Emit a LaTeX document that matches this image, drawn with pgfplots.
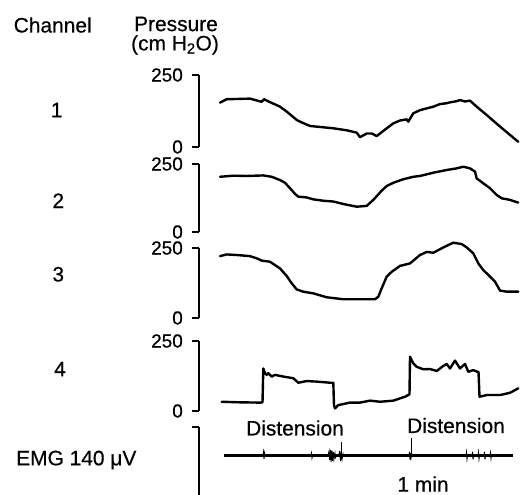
\documentclass[border=0pt]{standalone}
\usepackage{pgfplots}
\pgfplotsset{compat=1.18}
\usepackage{fontspec}
\setmainfont{Liberation Sans}[FakeBold=0.5]
\newcommand{\bigtxt}{\fontsize{21}{25}\selectfont}
\pgfplotsset{
  chan/.style={
    scale only axis, width=322bp, xmin=199, xmax=521, ymin=0, ymax=250,
    clip=false, axis x line=none, axis y line=left,
    axis line style={-, line width=1.6bp, black},
    ytick={0,250}, tick align=outside, major tick length=7bp,
    every tick/.style={line width=1.6bp, black},
    /pgf/number format/assume math mode=true,
    yticklabel style={font=\fontsize{19}{20}\selectfont, inner sep=0bp, xshift=-9bp},
  },
  trace/.style={black, line width=2.4bp, line join=round, line cap=round, no marks},
}
\begin{document}
\begin{tikzpicture}
\clip (0,0) rectangle (521bp,-495bp);
% headers
\node at (52.7bp,-25bp) {\bigtxt Channel};
\node at (176bp,-24bp) {\bigtxt Pressure};
\node at (175bp,-45bp) {\bigtxt (cm H\textsubscript{2}O)};
\node at (56.7bp,-110bp) {\bigtxt 1};
\node at (58.3bp,-200.7bp) {\bigtxt 2};
\node at (58.3bp,-274.3bp) {\bigtxt 3};
\node at (60bp,-369bp) {\bigtxt 4};
\node[anchor=west, inner sep=0pt] at (16bp,-460bp) {\bigtxt EMG 140 μV};
\node at (295bp,-428bp) {\bigtxt Distension};
\node at (456bp,-425.5bp) {\bigtxt Distension};
\node[inner sep=0pt] at (423bp,-484bp) {\bigtxt 1 min};

% Channel 1
\begin{axis}[chan, at={(199bp,-147bp)}, anchor=south west, height=72bp]
\addplot[trace] coordinates {
(220,154) (226.7,166) (240,167) (250,168) (261.7,157) (264,166) (266.7,161)
(280,140) (286.7,123) (296.7,94) (300,88) (310,73) (333.3,65) (346.7,58)
(356.7,50) (360,34) (366.7,47) (371.7,47) (376.7,38) (386.7,65) (393.3,82)
(400,92) (406.7,96) (408.3,88) (413.3,117) (420,128) (433.3,140) (440,149)
(446.7,152) (450,155) (456.7,159) (460,163) (465,158) (470,161) (476.7,140)
(486.7,111) (500,71) (510,42) (518.3,18)};
\end{axis}

% Channel 2
\begin{axis}[chan, at={(199bp,-232bp)}, anchor=south west, height=68bp]
\addplot[trace] coordinates {
(220,203) (233.3,207) (246.7,206) (263.3,208) (271.7,203) (280,191) (285,181)
(290,161) (295,140) (298.3,130) (306.7,127) (313.3,120) (323.3,115) (333.3,112)
(343.3,103) (356.7,93) (366.7,96) (373.3,118) (381.7,152) (386.7,169) (393.3,181)
(403.3,194) (413.3,203) (420,206) (433.3,218) (446.7,228) (456.7,234) (463.3,240)
(470,234) (475,222) (476.7,197) (483.3,179) (490,161) (496.7,136) (501.7,124)
(510,118) (518.3,108)};
\end{axis}

% Channel 3
\begin{axis}[chan, at={(199bp,-318bp)}, anchor=south west, height=70bp]
\addplot[trace] coordinates {
(220,221) (226.7,227) (236.7,225) (250,221) (256.7,213) (261.7,205) (270,201)
(280,177) (286.7,150) (291.7,124) (296.7,102) (303.3,94) (313.3,88) (326.7,74)
(343.3,67) (360,67) (375,67) (378.3,76) (381.7,106) (386.7,148) (391.7,165)
(400,186) (410,195) (420,225) (426.7,236) (433.3,233) (443.3,252) (453.3,269)
(461.7,264) (466.7,252) (473.3,231) (478.3,195) (483.3,171) (490,148) (495,130)
(500,98) (506.7,94) (518.3,94)};
\end{axis}

% Channel 4
\begin{axis}[chan, at={(199bp,-411bp)}, anchor=south west, height=70bp]
\addplot[trace] coordinates {
(221.7,33) (240,31) (260,30) (262.5,31) (263.3,152) (265,135) (266.7,129)
(268.3,135) (271.7,123) (275,129) (283.3,123) (293.3,117) (298.3,101) (306.7,107)
(316.7,105) (330,101) (333.3,101) (334,20) (335,9.5) (338.3,21) (350,30) (360,30)
(370,37) (380,33) (393.3,37) (405,51) (408.3,57) (409.5,60) (410,194) (413.3,170)
(416.7,158) (423.3,149) (430,150) (436.7,143) (443.3,161) (446.7,168) (450,152)
(455,180) (460,152) (465,168) (468.3,140) (473.3,146) (477.3,140) (478.5,140)
(479.5,51) (486.7,57) (500,57) (510,65) (518.3,81)};
\end{axis}

% EMG
\begin{axis}[chan, at={(199bp,-495bp)}, anchor=south west, height=68bp,
  ymin=0, ymax=140, ytick={140}, yticklabels={}]
\addplot[black, line width=2.8bp, no marks] coordinates {(224,81) (513,81)};
\addplot[black, line width=0.9bp, no marks, unbounded coords=jump] coordinates {
(263,81) (263.5,88) (264,74) (264.5,86) (265,81) (265.5,nan)
(311,81) (311.5,86) (312,76) (312.5,81) (313,nan)
(328,81) (329,90) (329.5,72) (330.5,93) (331,68) (332,92) (332.5,70) (333.5,88)
(334,74) (335,86) (335.5,77) (336.5,81) (337,nan)
(339,81) (339.5,91) (340.5,70) (341,89) (342,73) (343,85) (343.5,81) (344,nan)
(409,81) (409.5,89) (410,73) (410.5,86) (411,76) (411.5,81) (412,nan)
(466,81) (466.5,88) (467,74) (467.5,81) (468,nan)
(472,81) (472.5,89) (473,73) (473.5,81) (474,nan)
(478,81) (478.5,88) (479,74) (479.5,81) (480,nan)
(484,81) (484.5,89) (485,73) (485.5,81) (486,nan)
(490,81) (490.5,87) (491,75) (491.5,81)};
\addplot[black, line width=1.3bp, no marks] coordinates {(341.7,81) (341.7,110)};
\addplot[black, line width=1.3bp, no marks] coordinates {(411.7,81) (411.7,118)};
\end{axis}
\end{tikzpicture}
\end{document}
